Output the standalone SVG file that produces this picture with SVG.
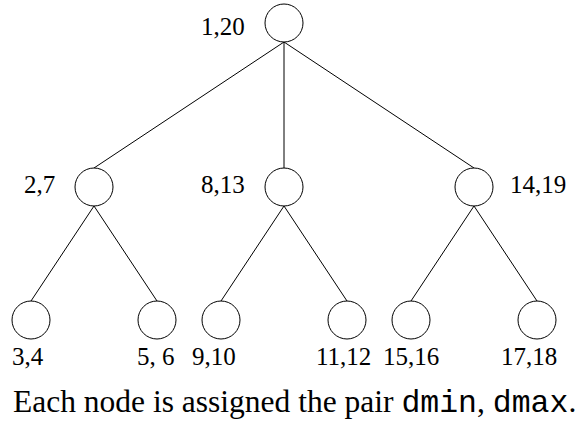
<svg xmlns="http://www.w3.org/2000/svg" width="581" height="421" viewBox="0 0 581 421">
<style>
.n{fill:#fff;stroke:#000;stroke-width:1}
.e{stroke:#000;stroke-width:1;fill:none}
.l{font-size:25px;fill:#000}
.c{font-size:31.5px;fill:#000}
</style>
<rect width="581" height="421" fill="#fff"/>
<g id="edges">
<line class="e" x1="284" y1="42" x2="94" y2="168"/>
<line class="e" x1="284" y1="42" x2="284" y2="168"/>
<line class="e" x1="284" y1="42" x2="474" y2="168"/>
<line class="e" x1="94" y1="206" x2="31" y2="301"/>
<line class="e" x1="94" y1="206" x2="157" y2="301"/>
<line class="e" x1="284" y1="206" x2="221" y2="301"/>
<line class="e" x1="284" y1="206" x2="347" y2="301"/>
<line class="e" x1="474" y1="206" x2="411" y2="301"/>
<line class="e" x1="474" y1="206" x2="537" y2="301"/>
</g>
<g font-family="Liberation Serif, Times New Roman, serif">
<g id="n-root"><circle class="n" cx="284" cy="23" r="19"/><text class="l" x="201" y="35">1,20</text></g>
<g id="n-a"><circle class="n" cx="94" cy="187" r="19"/><text class="l" x="24" y="193">2,7</text></g>
<g id="n-b"><circle class="n" cx="284" cy="187" r="19"/><text class="l" x="201" y="193">8,13</text></g>
<g id="n-c"><circle class="n" cx="474" cy="187" r="19"/><text class="l" x="510" y="193">14,19</text></g>
<g id="n-a1"><circle class="n" cx="31" cy="320" r="19"/><text class="l" x="12" y="365">3,4</text></g>
<g id="n-a2"><circle class="n" cx="157" cy="320" r="19"/><text class="l" x="137" y="365">5, 6</text></g>
<g id="n-b1"><circle class="n" cx="221" cy="320" r="19"/><text class="l" x="192" y="365">9,10</text></g>
<g id="n-b2"><circle class="n" cx="347" cy="320" r="19"/><text class="l" x="316" y="365">11,12</text></g>
<g id="n-c1"><circle class="n" cx="411" cy="320" r="19"/><text class="l" x="383" y="365">15,16</text></g>
<g id="n-c2"><circle class="n" cx="537" cy="320" r="19"/><text class="l" x="501" y="365">17,18</text></g>
<text class="c" x="13" y="412" xml:space="preserve">Each node is assigned the pair <tspan font-family="Liberation Mono, Courier New, monospace">dmin</tspan>, <tspan font-family="Liberation Mono, Courier New, monospace">dmax</tspan>.</text>
</g>
</svg>
